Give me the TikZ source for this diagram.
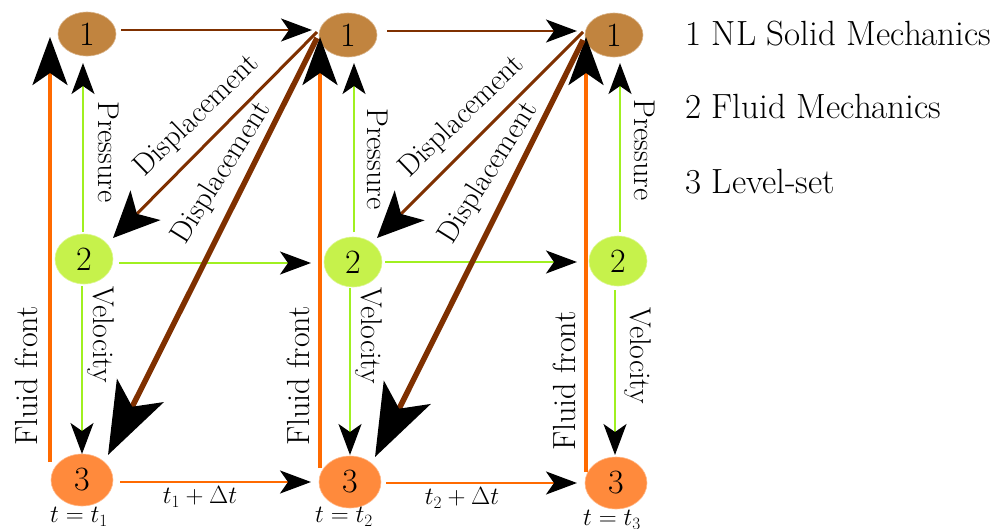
\documentclass[tikz,border=0pt]{standalone}
\usetikzlibrary{arrows.meta,calc,shapes.geometric}
\definecolor{cone}{HTML}{C1843F}
\definecolor{ctwo}{HTML}{C6F24B}
\definecolor{cthree}{HTML}{FF8A3C}
\definecolor{lbrown}{HTML}{7F3000}
\definecolor{lgreen}{HTML}{A0F020}
\definecolor{lorange}{HTML}{FF6A00}
\tikzset{
  nodeone/.style={ellipse, fill=cone, draw=cone!60!white, line width=0.6pt, minimum width=58pt, minimum height=44pt, inner sep=0pt, font=\fontsize{34}{36}\selectfont},
  nodetwo/.style={ellipse, fill=ctwo, draw=ctwo!60!white, line width=0.6pt, minimum width=58pt, minimum height=50pt, inner sep=0pt, font=\fontsize{34}{36}\selectfont},
  nodethree/.style={ellipse, fill=cthree, draw=cthree!60!white, line width=0.6pt, minimum width=62pt, minimum height=52pt, inner sep=0pt, font=\fontsize{34}{36}\selectfont},
  smalltip/.style={-{Stealth[length=31pt,width=23pt,inset=8pt,color=black,fill=black]}},
  fronttip/.style={-{Stealth[length=48pt,width=35pt,inset=12pt,color=black,fill=black]}},
  diagtip/.style={-{Stealth[length=46pt,width=42pt,inset=12pt,color=black,fill=black]}},
  bigtip/.style={-{Stealth[length=72pt,width=52pt,inset=18pt,color=black,fill=black]}},
  brownline/.style={draw=lbrown, line width=2pt, smalltip},
  greenline/.style={draw=lgreen, line width=2pt, smalltip},
  orangeline/.style={draw=lorange, line width=2.5pt, smalltip},
  frontline/.style={draw=lorange, line width=4pt, fronttip},
  diagone/.style={draw=lbrown, line width=3pt, diagtip},
  diagtwo/.style={draw=lbrown, line width=5.5pt, bigtip},
  lbl/.style={inner sep=0pt, font=\fontsize{30}{32}\selectfont},
  fflbl/.style={inner sep=0pt, font=\fontsize{32}{34}\selectfont},
  mathlbl/.style={inner sep=0pt, font=\fontsize{24}{26}\selectfont},
  legend/.style={inner sep=0pt, anchor=west, font=\fontsize{35}{37}\selectfont},
}
\begin{document}
\begin{tikzpicture}[x=1pt,y=-1pt]
\useasboundingbox (0,0) rectangle (999,528);
\fill[white] (0,0) rectangle (999,528);
% nodes
\node[nodeone] (a1) at (87,34) {1};
\node[nodetwo] (a2) at (84,259) {2};
\node[nodethree] (a3) at (82,480) {3};
\node[nodeone] (b1) at (348,35) {1};
\node[nodetwo] (b2) at (353,262) {2};
\node[nodethree] (b3) at (350,482) {3};
\node[nodeone] (c1) at (614,35) {1};
\node[nodetwo] (c2) at (618,261) {2};
\node[nodethree] (c3) at (616,483) {3};
% horizontal arrows
\draw[brownline] ($(a1)+(34,-4)$) -- ($(b1)+(-36,-5)$);
\draw[brownline] ($(b1)+(39,-4)$) -- ($(c1)+(-37,-4)$);
\draw[greenline] ($(a2)+(35,4)$) -- ($(b2)+(-42,1)$);
\draw[greenline] ($(b2)+(32,0)$) -- ($(c2)+(-41,1)$);
\draw[orangeline] ($(a3)+(38,2)$) -- ($(b3)+(-39,0)$);
\draw[orangeline] ($(b3)+(36,1)$) -- ($(c3)+(-39,0)$);
% fluid front
\draw[frontline] ($(a3)+(-32,-18)$) -- ($(a1)+(-37,3)$);
\draw[frontline] ($(b3)+(-30,-14)$) -- ($(b1)+(-28,2)$);
\draw[frontline] ($(c3)+(-30,-11)$) -- ($(c1)+(-28,2)$);
% pressure
\draw[greenline] ($(a2)+(-1,-27)$) -- ($(a1)+(-4,29)$);
\draw[greenline] ($(b2)+(1,-30)$) -- ($(b1)+(6,28)$);
\draw[greenline] ($(c2)+(2,-29)$) -- ($(c1)+(6,28)$);
% velocity
\draw[greenline] ($(a2)+(-2,27)$) -- ($(a3)+(0,-26)$);
\draw[greenline] ($(b2)+(-3,26)$) -- ($(b3)+(0,-27)$);
\draw[greenline] ($(c2)+(-3,29)$) -- ($(c3)+(-1,-28)$);
% displacement diagonals
\draw[diagone] ($(b1)+(-31,-3)$) -- ($(a2)+(29,-21)$);
\draw[diagtwo] ($(b1)+(-31,3)$) -- ($(a3)+(26,-25)$);
\draw[diagone] ($(c1)+(-31,-3)$) -- ($(b2)+(24,-24)$);
\draw[diagtwo] ($(c1)+(-31,5)$) -- ($(b3)+(25,-25)$);
% labels
\node[fflbl, rotate=90] (ff1) at (26,376) {Fluid front};
\node[fflbl, rotate=90] (ff2) at (298,376) {Fluid front};
\node[fflbl, rotate=90] (ff3) at (564,381) {Fluid front};
\node[lbl, rotate=-90] (pr1) at (109,152) {Pressure};
\node[lbl, rotate=-90] (pr2) at (378,159) {Pressure};
\node[lbl, rotate=-90] (pr3) at (645,150) {Pressure};
\node[lbl, rotate=-90] (ve1) at (101,335) {Velocity};
\node[lbl, rotate=-90] (ve2) at (369,336) {Velocity};
\node[lbl, rotate=-90] (ve3) at (638,356) {Velocity};
\node[lbl, rotate=44] (du1) at (197,116) {Displacement};
\node[lbl, rotate=44] (du2) at (462,117) {Displacement};
\node[lbl, rotate=58] (dl1) at (222,173) {Displacement};
\node[lbl, rotate=58] (dl2) at (489,173) {Displacement};
\node[mathlbl] (dt1) at (200,497) {$t_1+\Delta t$};
\node[mathlbl] (dt2) at (462,498) {$t_2+\Delta t$};
\node[mathlbl] (tt1) at (79,517) {$t=t_1$};
\node[mathlbl] (tt2) at (344,517) {$t=t_2$};
\node[mathlbl] (tt3) at (612,520) {$t=t_3$};
% legend
\node[legend] (lg1) at (685,34) {1 NL Solid Mechanics};
\node[legend] (lg2) at (685,106) {2 Fluid Mechanics};
\node[legend] (lg3) at (685,182) {3 Level-set};
\end{tikzpicture}
\end{document}
